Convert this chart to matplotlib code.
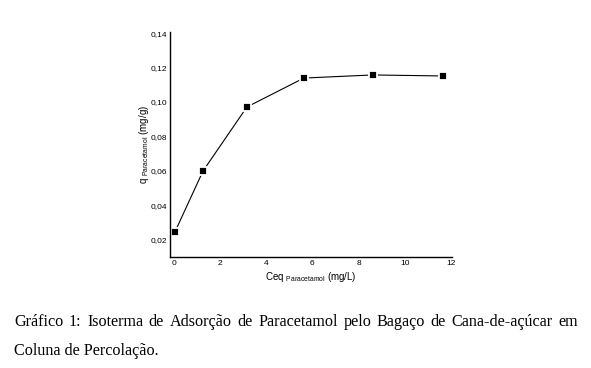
import matplotlib
matplotlib.use("Agg")
import matplotlib.pyplot as plt

# isotherm data
ceq = [0.04, 1.26, 3.16, 5.63, 8.62, 11.65]
q = [0.0246, 0.0600, 0.0971, 0.1139, 0.1157, 0.1151]
xticks = [0, 2, 4, 6, 8, 10, 12]
yticks = [0.02, 0.04, 0.06, 0.08, 0.10, 0.12, 0.14]
caption1 = "Gráfico 1: Isoterma de Adsorção de Paracetamol pelo Bagaço de Cana-de-açúcar em"
caption2 = "Coluna de Percolação."

plt.rcParams['font.family'] = 'Liberation Sans'
plt.rcParams['mathtext.fontset'] = 'custom'
plt.rcParams['mathtext.rm'] = 'Liberation Sans'

W, H = 591, 368
fig = plt.figure(figsize=(W / 100, H / 100), dpi=100)
ax = fig.add_axes([0.2877, 0.3016, 0.4772, 0.6114])

ax.plot(ceq, q, color='black', lw=0.8, marker='s', ms=5.5,
        mfc='black', mec='white', mew=1.3)

ax.set_xlim(-0.17, 12.05)
ax.set_ylim(0.0101, 0.1406)
ax.set_xticks(xticks)
ax.set_xticklabels([str(t) for t in xticks])
ax.set_yticks(yticks)
ax.set_yticklabels([f"{t:.2f}".replace('.', ',') for t in yticks])
ax.tick_params(length=0, labelsize=6, pad=2)
for s in ['top', 'right']:
    ax.spines[s].set_visible(False)
for s in ['left', 'bottom']:
    ax.spines[s].set_linewidth(1.0)

ax.set_xlabel(r"Ceq $_{\mathrm{Paracetamol}}$ (mg/L)", fontsize=7, labelpad=2)
ax.set_ylabel(r"q $_{\mathrm{Paracetamol}}$ (mg/g)", fontsize=7)
ax.yaxis.set_label_coords(-0.068, 0.5)

# caption, first line justified between the margins
cap = dict(family='Liberation Serif', fontsize=11.6, color='black')
left, right = 14, 578
words = caption1.split(" ")
r = fig.canvas.get_renderer()
widths = []
for w in words:
    t = fig.text(0, 0, w, **cap)
    widths.append(t.get_window_extent(renderer=r).width)
    t.remove()
gap = (right - left - sum(widths)) / (len(words) - 1)
x = left
for w, wd in zip(words, widths):
    fig.text(x / W, 1 - 322 / H, w, va='center', ha='left', **cap)
    x += wd + gap
fig.text(left / W, 1 - 351 / H, caption2, va='center', ha='left', **cap)

fig.savefig("out.png", dpi=100)
